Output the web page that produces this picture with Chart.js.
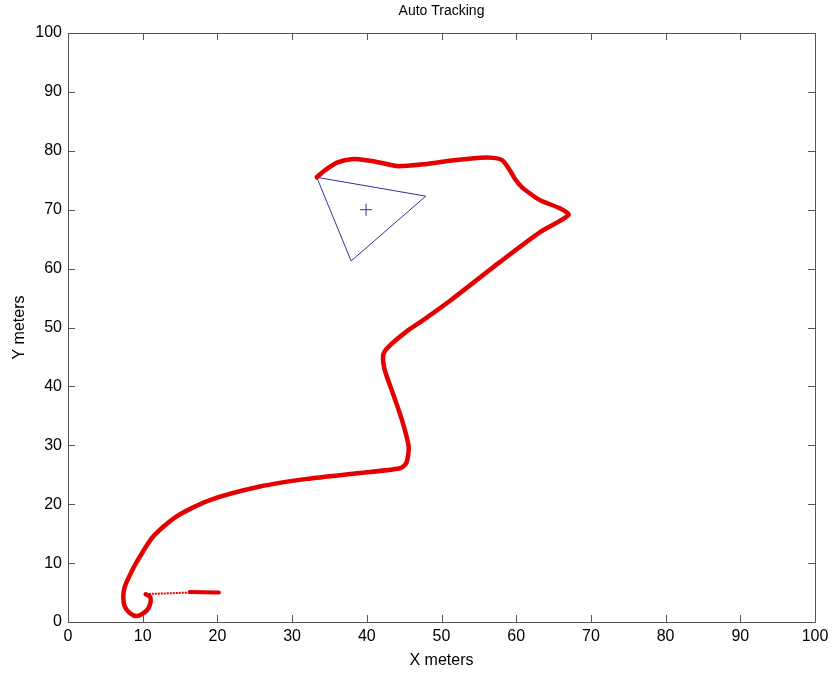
<!DOCTYPE html>
<html lang="en">
<head>
  <meta charset="UTF-8" />
  <title>Auto Tracking</title>
  <script src="https://cdn.jsdelivr.net/npm/chart.js"></script>
  <style>
    body { margin: 0; background: #fff; }
    .wrap { width: 834px; height: 673px; position: relative; }
  </style>
</head>
<body>
  <div class="wrap"><canvas id="track"></canvas></div>
  <script>
    // axis ticks (meters)
    const xTicks = [0, 10, 20, 30, 40, 50, 60, 70, 80, 90, 100];
    const yTicks = [0, 10, 20, 30, 40, 50, 60, 70, 80, 90, 100];

    // first stretch of the run, heavy part then the sparse part
    const startX = [20.2, 18.0, 16.3];
    const startY = [5.0, 5.05, 5.1];
    const sparseX = [16.3, 13.0, 10.4];
    const sparseY = [5.0, 4.85, 4.75];

    // main tracked path
    const pathX = [10.4, 10.98, 11.07, 10.75, 10.1, 9.2, 8.3, 7.6, 7.4, 7.6, 8.3, 9.2, 11.4, 14.5, 19.0, 25.7, 32.0, 39.1, 44.4,
                   45.3, 45.6, 44.7, 43.5, 42.4, 42.2, 42.9, 45.3, 47.6, 51.1, 57.8, 63.2, 67.0,
                   65.9, 63.2, 61.8, 60.7, 59.8, 59.0, 58.1, 56.9, 55.2, 51.1, 47.6, 45.8, 44.0, 42.2, 40.0, 38.2, 36.0, 34.4, 33.3];
    const pathY = [4.7, 4.3, 3.45, 2.3, 1.5, 1.0, 1.5, 2.6, 4.3, 6.0, 8.0, 10.2, 14.5, 17.9, 20.7, 23.0, 24.3, 25.3, 26.1,
                   27.0, 29.8, 34.3, 38.8, 42.8, 45.3, 46.7, 49.3, 51.3, 54.5, 61.1, 66.2, 69.1,
                   70.2, 71.6, 72.8, 73.9, 75.3, 77.0, 78.4, 78.8, 78.8, 78.3, 77.7, 77.5, 77.4, 77.9, 78.4, 78.6, 78.0, 76.7, 75.5];

    // target triangle and its centre
    const triX = [33.3, 47.9, 37.9, 33.3];
    const triY = [75.5, 72.3, 61.3, 75.5];
    const centerX = [39.9];
    const centerY = [70.0];

    const pts = (xs, ys) => xs.map((x, i) => ({ x: x, y: ys[i] }));

    const red = 'rgb(228,0,0)';
    const navy = 'rgb(50,50,150)';
    const family = 'Arial, "Liberation Sans", sans-serif';

    // box around the plot with inward tick marks on all four sides, plus the title over the plot
    const boxPlugin = {
      id: 'box',
      afterDraw(chart) {
        const { ctx, chartArea: a, scales: { x, y } } = chart;
        ctx.save();
        ctx.strokeStyle = '#555';
        ctx.lineWidth = 1;
        ctx.beginPath();
        ctx.rect(Math.round(a.left) + 0.5, Math.round(a.top) + 0.5,
                 Math.round(a.right - a.left), Math.round(a.bottom - a.top));
        xTicks.forEach(v => {
          const px = Math.round(x.getPixelForValue(v)) + 0.5;
          ctx.moveTo(px, a.bottom); ctx.lineTo(px, a.bottom - 7);
          ctx.moveTo(px, a.top); ctx.lineTo(px, a.top + 7);
        });
        yTicks.forEach(v => {
          const py = Math.round(y.getPixelForValue(v)) + 0.5;
          ctx.moveTo(a.left, py); ctx.lineTo(a.left + 7, py);
          ctx.moveTo(a.right, py); ctx.lineTo(a.right - 7, py);
        });
        ctx.stroke();

        ctx.fillStyle = '#000';
        ctx.font = '14px ' + family;
        ctx.textAlign = 'center';
        ctx.textBaseline = 'middle';
        ctx.fillText('Auto Tracking', (a.left + a.right) / 2, 11);
        ctx.restore();
      }
    };

    const font = { family: family, size: 16 };

    new Chart(document.getElementById('track'), {
      type: 'scatter',
      data: {
        datasets: [
          { data: pts(pathX, pathY), showLine: true, borderColor: red, borderWidth: 4.5,
            tension: 0.25, pointRadius: 0, borderJoinStyle: 'round', borderCapStyle: 'round' },
          { data: pts(startX, startY), showLine: true, borderColor: red, borderWidth: 4,
            pointRadius: 0, borderCapStyle: 'round' },
          { data: pts(sparseX, sparseY), showLine: true, borderColor: red, borderWidth: 2,
            borderDash: [2, 1], pointRadius: 0 },
          { data: pts(triX, triY), showLine: true, borderColor: navy, borderWidth: 1,
            pointRadius: 0, tension: 0 },
          { data: pts(centerX, centerY), pointStyle: 'cross', pointRadius: 6,
            borderColor: navy, borderWidth: 1, backgroundColor: navy }
        ]
      },
      options: {
        responsive: true,
        maintainAspectRatio: false,
        animation: false,
        layout: { padding: { right: 19, left: 0, top: 33, bottom: 0 } },
        plugins: {
          legend: { display: false },
          tooltip: { enabled: false },
          title: { display: false }
        },
        scales: {
          x: {
            type: 'linear', min: 0, max: 100,
            ticks: { stepSize: 10, color: '#000', font: font, padding: 5, maxRotation: 0 },
            grid: { display: false, drawTicks: false }, border: { display: false },
            title: { display: true, text: 'X meters', color: '#000', font: font, padding: { top: 3, bottom: 3 } },
            afterFit(s) { s.height = 51; }
          },
          y: {
            type: 'linear', min: 0, max: 100,
            ticks: { stepSize: 10, color: '#000', font: font, padding: 6 },
            grid: { display: false, drawTicks: false }, border: { display: false },
            title: { display: true, text: 'Y meters', color: '#000', font: font, padding: { top: 10, bottom: 10 } },
            afterFit(s) { s.width = 68; }
          }
        }
      },
      plugins: [boxPlugin]
    });
  </script>
</body>
</html>
